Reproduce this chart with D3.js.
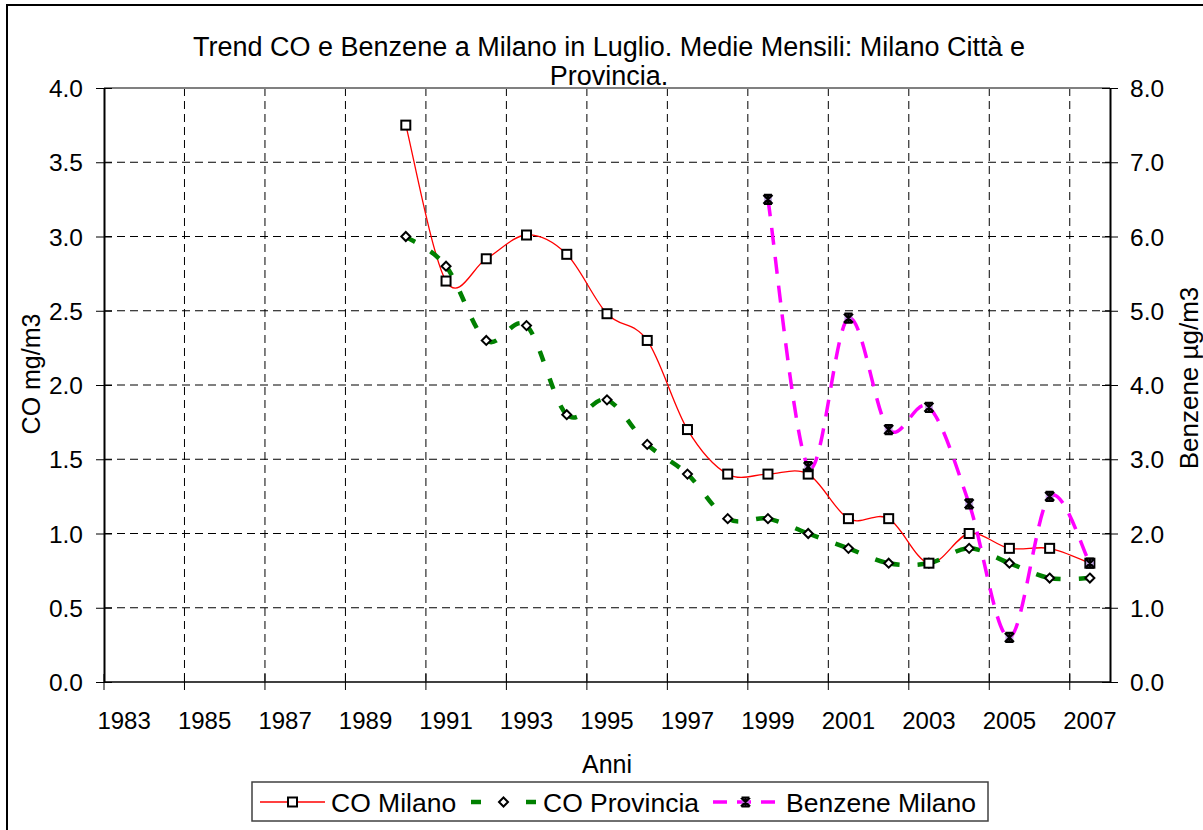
<!DOCTYPE html>
<html>
<head>
<meta charset="utf-8">
<script src="https://cdn.jsdelivr.net/npm/d3@7"></script>
<style>
  html, body { margin: 0; padding: 0; background: #fff; }
  svg { display: block; }
  text { font-family: "Liberation Sans", Arial, sans-serif; fill: #000; }
</style>
</head>
<body>
<svg id="chart" width="1203" height="830"></svg>
<script>
// ---------- DATA ----------
const categories = d3.range(1983, 2008);            // category axis 1983..2007
const tickLabels = d3.range(1983, 2008, 2);         // labels every 2 years
const seriesYears = d3.range(1990, 2008);           // years with data
const coMilano    = [3.75, 2.70, 2.85, 3.01, 2.88, 2.48, 2.30, 1.70, 1.40, 1.40, 1.40, 1.10, 1.10, 0.80, 1.00, 0.90, 0.90, 0.80];
const coProvincia = [3.00, 2.80, 2.30, 2.40, 1.80, 1.90, 1.60, 1.40, 1.10, 1.10, 1.00, 0.90, 0.80, 0.80, 0.90, 0.80, 0.70, 0.70];
const benzeneYears = d3.range(1999, 2008);
const benzene     = [6.5, 2.9, 4.9, 3.4, 3.7, 2.4, 0.6, 2.5, 1.6];
const leftTicks  = [0, 0.5, 1, 1.5, 2, 2.5, 3, 3.5, 4];
const rightTicks = [0, 1, 2, 3, 4, 5, 6, 7, 8];

const title1 = "Trend CO e Benzene a Milano in Luglio. Medie Mensili: Milano Città e";
const title2 = "Provincia.";

// ---------- LAYOUT ----------
const svg = d3.select("#chart");
const L = 104, R = 1110, T = 88, B = 682;

const x = d3.scaleBand().domain(categories).range([L, R]).padding(0);
const cx = yr => x(yr) + x.bandwidth() / 2;
const yL = d3.scaleLinear().domain([0, 4]).range([B, T]);
const yR = d3.scaleLinear().domain([0, 8]).range([B, T]);

// outer chart border
svg.append("rect").attr("x", 7).attr("y", 5).attr("width", 1250).attr("height", 900)
  .attr("fill", "#fff").attr("stroke", "#000").attr("stroke-width", 2);

// title
svg.append("text").attr("x", 609).attr("y", 56).attr("text-anchor", "middle")
  .style("font-size", "27px").text(title1);
svg.append("text").attr("x", 609).attr("y", 85).attr("text-anchor", "middle")
  .style("font-size", "27px").text(title2);

// gridlines (horizontal)
svg.append("g").selectAll("line").data(leftTicks.filter(v => v > 0 && v < 4)).join("line")
  .attr("x1", L).attr("x2", R).attr("y1", d => yL(d)).attr("y2", d => yL(d))
  .attr("stroke", "#000").attr("stroke-width", 1).attr("stroke-dasharray", "8,5");

// gridlines (vertical) at tick boundaries
const tickYears = tickLabels.filter(yr => yr > 1983);
svg.append("g").selectAll("line").data(tickYears).join("line")
  .attr("x1", d => x(d)).attr("x2", d => x(d)).attr("y1", T).attr("y2", B)
  .attr("stroke", "#000").attr("stroke-width", 1).attr("stroke-dasharray", "8,5");

// plot area top border (gray)
svg.append("line").attr("x1", L).attr("x2", R).attr("y1", T).attr("y2", T)
  .attr("stroke", "#808080").attr("stroke-width", 2);

// ---------- AXES ----------
const axisLeft = d3.axisLeft(yL).tickValues(leftTicks).tickFormat(d3.format(".1f")).tickSizeInner(8).tickSizeOuter(0).tickPadding(14);
const gL = svg.append("g").attr("transform", `translate(${L},0)`).call(axisLeft);
gL.select(".domain").attr("stroke", "#000").attr("stroke-width", 2);
gL.selectAll(".tick line").attr("x2", -8).attr("x1", 8).attr("stroke", "#000");
gL.selectAll(".tick text").style("font-size", "24.5px").attr("dy", "0.35em").attr("x", -21);

const axisRight = d3.axisRight(yR).tickValues(rightTicks).tickFormat(d3.format(".1f")).tickSizeInner(8).tickSizeOuter(0);
const gR = svg.append("g").attr("transform", `translate(${R},0)`).call(axisRight);
gR.select(".domain").attr("stroke", "#000").attr("stroke-width", 2);
gR.selectAll(".tick line").attr("x1", -8).attr("x2", 8).attr("stroke", "#000");
gR.selectAll(".tick text").style("font-size", "24.5px").attr("dy", "0.35em").attr("x", 20);

// x axis
const gX = svg.append("g").attr("transform", `translate(0,${B})`);
gX.append("line").attr("x1", L).attr("x2", R).attr("y1", 0).attr("y2", 0)
  .attr("stroke", "#000").attr("stroke-width", 1.5);
gX.selectAll("line.tk").data(tickLabels).join("line").attr("class", "tk")
  .attr("x1", d => x(d)).attr("x2", d => x(d)).attr("y1", -8).attr("y2", 8)
  .attr("stroke", "#000").attr("stroke-width", 1);
gX.selectAll("text").data(tickLabels).join("text")
  .attr("x", d => cx(d)).attr("y", 47).attr("text-anchor", "middle")
  .style("font-size", "24px").text(d => d);

// axis titles
svg.append("text").attr("transform", "translate(40,374) rotate(-90)")
  .attr("text-anchor", "middle").style("font-size", "25px").text("CO mg/m3");
svg.append("text").attr("transform", "translate(1198,378) rotate(-90)")
  .attr("text-anchor", "middle").style("font-size", "26px").text("Benzene µg/m3");
svg.append("text").attr("x", 607).attr("y", 773).attr("text-anchor", "middle")
  .style("font-size", "25px").text("Anni");

// ---------- SERIES ----------
// Smooth line drawn segment by segment (Catmull-Rom / cardinal tension 0),
// so that dash patterns restart at each data point as in the original.
function drawSmooth(g, pts, style) {
  for (let i = 0; i < pts.length - 1; i++) {
    const p0 = pts[i - 1] || pts[i], p1 = pts[i], p2 = pts[i + 1], p3 = pts[i + 2] || pts[i + 1];
    const c1 = [p1[0] + (p2[0] - p0[0]) / 6, p1[1] + (p2[1] - p0[1]) / 6];
    const c2 = [p2[0] - (p3[0] - p1[0]) / 6, p2[1] - (p3[1] - p1[1]) / 6];
    const p = d3.path();
    p.moveTo(p1[0], p1[1]);
    p.bezierCurveTo(c1[0], c1[1], c2[0], c2[1], p2[0], p2[1]);
    const path = g.append("path").attr("d", p.toString()).attr("fill", "none");
    Object.entries(style).forEach(([k, v]) => path.attr(k, v));
  }
}

const ptsMil = seriesYears.map((yr, i) => [cx(yr), yL(coMilano[i])]);
const ptsProv = seriesYears.map((yr, i) => [cx(yr), yL(coProvincia[i])]);
const ptsBen = benzeneYears.map((yr, i) => [cx(yr), yR(benzene[i])]);

const styleProv = { "stroke": "#008000", "stroke-width": 4.5, "stroke-dasharray": "11,18" };
const styleMil  = { "stroke": "#FF0000", "stroke-width": 1.3 };
const styleBen  = { "stroke": "#FF00FF", "stroke-width": 3.5, "stroke-dasharray": "17,12" };

const gLines = svg.append("g");
drawSmooth(gLines.append("g"), ptsMil, styleMil);
drawSmooth(gLines.append("g"), ptsProv, styleProv);
drawSmooth(gLines.append("g"), ptsBen, styleBen);

// markers
function squareMarker(g, px, py) {
  g.append("rect").attr("x", px - 4.5).attr("y", py - 4.5).attr("width", 9).attr("height", 9)
    .attr("fill", "#fff").attr("stroke", "#000").attr("stroke-width", 2);
}
function diamondMarker(g, px, py) {
  g.append("path").attr("d", `M${px},${py - 4.5}L${px + 4.5},${py}L${px},${py + 4.5}L${px - 4.5},${py}Z`)
    .attr("fill", "#fff").attr("stroke", "#000").attr("stroke-width", 2);
}
function starMarker(g, px, py) {
  g.append("rect").attr("x", px - 4).attr("y", py - 4).attr("width", 8).attr("height", 8)
    .attr("fill", "#b08be0").attr("opacity", 0.7);
  g.append("path").attr("d", `M${px - 4.5},${py - 4.5}L${px + 4.5},${py + 4.5}M${px - 4.5},${py + 4.5}L${px + 4.5},${py - 4.5}M${px},${py - 5}L${px},${py + 5}M${px - 4},${py - 4.5}L${px + 4},${py - 4.5}M${px - 4},${py + 4.5}L${px + 4},${py + 4.5}`)
    .attr("stroke", "#000").attr("stroke-width", 2.2).attr("fill", "none");
}
const gM = svg.append("g");
ptsProv.forEach(p => diamondMarker(gM, p[0], p[1]));
ptsMil.forEach(p => squareMarker(gM, p[0], p[1]));
ptsBen.forEach(p => starMarker(gM, p[0], p[1]));

// ---------- LEGEND ----------
const lg = svg.append("g");
lg.append("rect").attr("x", 252).attr("y", 782).attr("width", 736).attr("height", 39)
  .attr("fill", "#fff").attr("stroke", "#404040").attr("stroke-width", 1.5);
const ly = 802;
const legendItems = [
  { name: "CO Milano",      x0: 260, x1: 325, style: styleMil,  dash: null,         marker: squareMarker,  tx: 331 },
  { name: "CO Provincia",   x0: 471, x1: 536, style: styleProv, dash: "10,45,10",   marker: diamondMarker, tx: 543 },
  { name: "Benzene Milano", x0: 713, x1: 778, style: styleBen,  dash: "14,10",      marker: starMarker,    tx: 786 }
];
legendItems.forEach(it => {
  const ln = lg.append("line").attr("x1", it.x0).attr("x2", it.x1).attr("y1", ly).attr("y2", ly)
    .attr("stroke", it.style.stroke).attr("stroke-width", it.style["stroke-width"]);
  if (it.dash) ln.attr("stroke-dasharray", it.dash);
  it.marker(lg, (it.x0 + it.x1) / 2, ly);
  lg.append("text").attr("x", it.tx).attr("y", ly + 9.5).style("font-size", "26.5px").text(it.name);
});
</script>
</body>
</html>
